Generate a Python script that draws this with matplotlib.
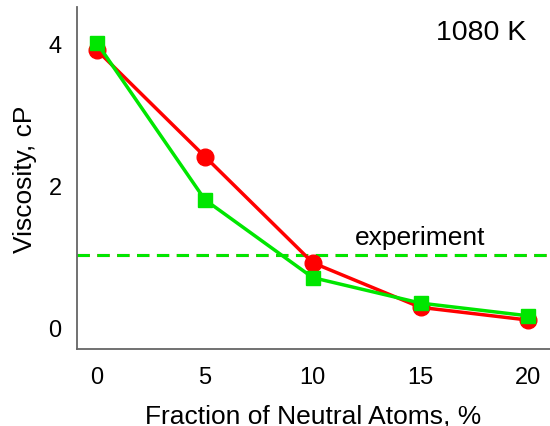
import matplotlib
matplotlib.use('Agg')
import matplotlib.pyplot as plt

plt.rcParams['font.family'] = ['Liberation Sans', 'DejaVu Sans']

# fraction of neutral atoms, %
fraction = [0, 5, 10, 15, 20]
# viscosity, cP
visc_red = [3.91, 2.41, 0.91, 0.28, 0.10]
visc_green = [4.01, 1.80, 0.70, 0.34, 0.16]
experiment = 1.02

fig = plt.figure(figsize=(5.5, 4.27), dpi=100)
ax = fig.add_axes([0.14, 0.18, 0.86, 0.801])

ax.axhline(experiment, color='#ff0000', lw=2.2, ls=(0, (4, 2.5)), zorder=1)
ax.axhline(experiment, color='#00e600', lw=2.2, ls=(0, (4, 2.5)), zorder=1.1)

ax.plot(fraction, visc_red, color='#ff0000', lw=2.5, marker='o', ms=12, zorder=2)
ax.plot(fraction, visc_green, color='#00e600', lw=2.5, marker='s', ms=10.5, zorder=3)

ax.text(15, 1.27, 'experiment', fontsize=19, ha='center', va='center')
ax.text(17.8, 4.17, '1080 K', fontsize=20.5, ha='center', va='center')

ax.set_xlim(-0.93, 21.0)
ax.set_ylim(-0.31, 4.52)
ax.set_xticks([0, 5, 10, 15, 20])
ax.set_yticks([0, 2, 4])
ax.tick_params(length=0, labelsize=17)
ax.tick_params(axis='x', pad=12)
ax.tick_params(axis='y', pad=11)

ax.set_xlabel('Fraction of Neutral Atoms, %', fontsize=19, labelpad=11)
ax.set_ylabel('Viscosity, cP', fontsize=19, labelpad=8)

for side in ['top', 'right']:
    ax.spines[side].set_visible(False)
for side in ['left', 'bottom']:
    ax.spines[side].set_color('#666666')
    ax.spines[side].set_linewidth(1.3)

fig.savefig('out.png', dpi=100)
